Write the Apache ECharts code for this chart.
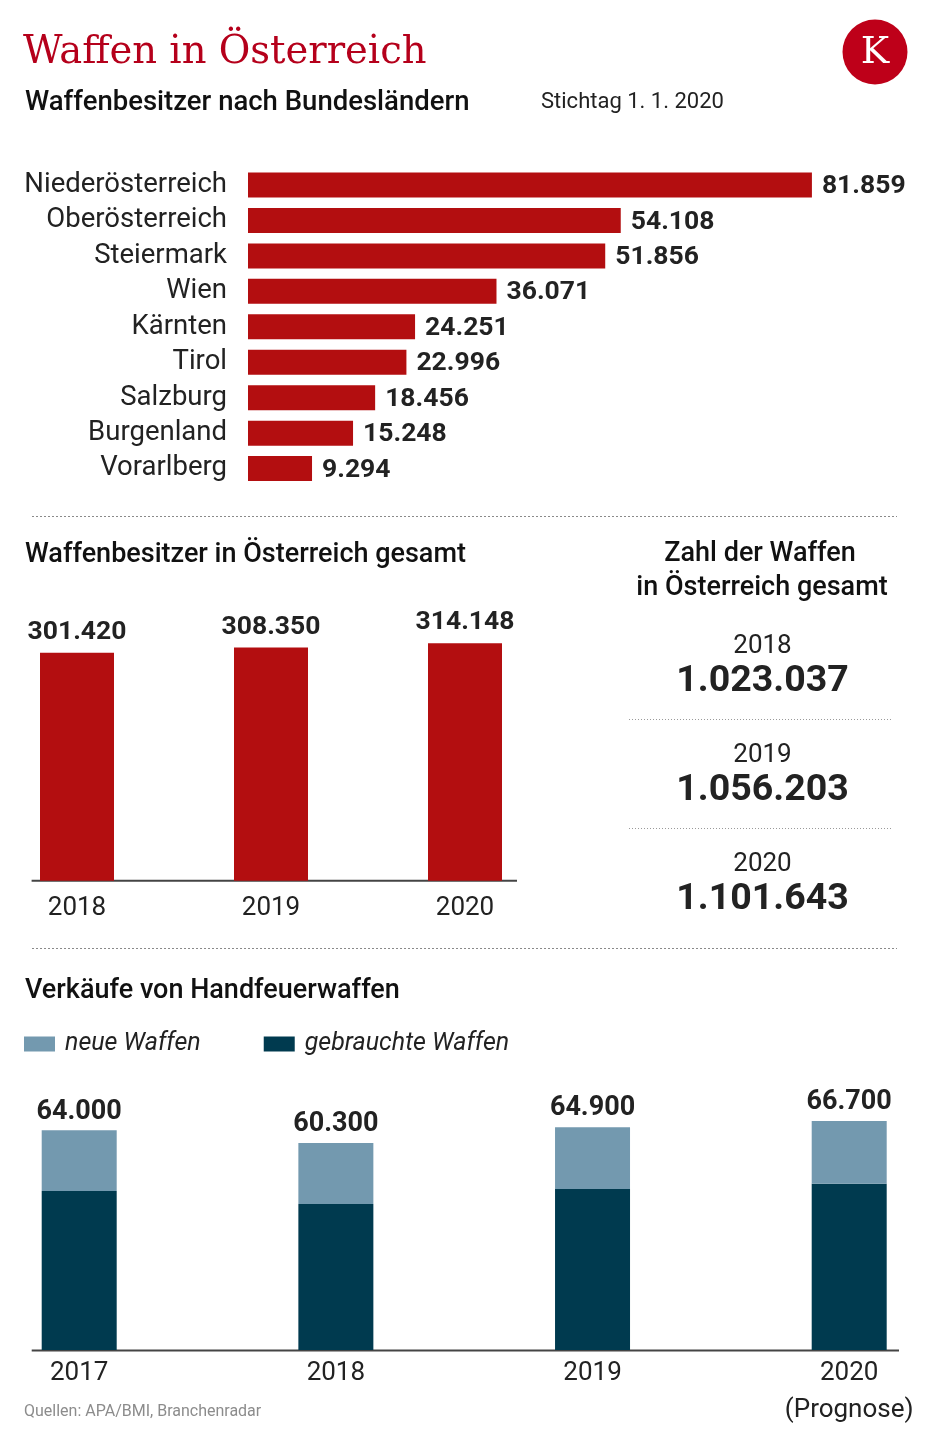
<!DOCTYPE html>
<html><head><meta charset="utf-8">
<script src="https://cdn.jsdelivr.net/npm/echarts@6/dist/echarts.min.js"></script>
<style>html,body{margin:0;padding:0;background:#fff}#c{width:932px;height:1455px}</style>
</head><body><div id="c"></div>
<script>
// ---- data ----
const regions = ['Niederösterreich','Oberösterreich','Steiermark','Wien','Kärnten','Tirol','Salzburg','Burgenland','Vorarlberg'];
const owners = [81859,54108,51856,36071,24251,22996,18456,15248,9294];
const ownerYears = ['2018','2019','2020'];
const ownersTotal = [301420,308350,314148];
const weaponYears = ['2018','2019','2020'];
const weaponsTotal = [1023037,1056203,1101643];
const salesYears = ['2017','2018','2019','2020'];
const salesTickLabels = ['2017','2018','2019','2020\n(Prognose)'];
const salesUsed = [46300,42500,46900,48400];
const salesNew = [17700,17800,18000,18300];
const salesTotal = [64000,60300,64900,66700];

const fmt = v => String(v).replace(/\B(?=(\d{3})+(?!\d))/g, '.');
const RED = '#b30e10', DARK = '#222222', FF = 'Roboto';

function txt(x, y, text, font, fill, align) {
  return { type: 'text', x: x, y: y, silent: true,
    style: { text: text, font: font, fill: fill || DARK,
      textAlign: align || 'left', align: align || 'left',
      textVerticalAlign: 'middle', verticalAlign: 'middle' } };
}
function line(x1, y1, x2, y2, stroke, w, dash) {
  return { type: 'line', silent: true, shape: { x1, y1, x2, y2 },
    style: { stroke: stroke, lineWidth: w, lineDash: dash || null } };
}

const graphics = [
  txt(23, 53, 'Waffen in Österreich', '38.5px "DejaVu Serif"', '#b5001b'),
  txt(25, 103, 'Waffenbesitzer nach Bundesländern', '500 27.5px ' + FF, '#111'),
  txt(541, 102, 'Stichtag 1. 1. 2020', '22px ' + FF, '#222'),
  { type: 'circle', silent: true, shape: { cx: 875, cy: 52, r: 32.5 }, style: { fill: '#be0019' } },
  txt(875, 53, 'K', '38px "DejaVu Serif"', '#fff', 'center'),
  line(32, 516.5, 897, 516.5, '#8a8a8a', 1, [2, 2]),
  txt(25, 555, 'Waffenbesitzer in Österreich gesamt', '500 27px ' + FF, '#111'),
  line(31.6, 880.7, 517, 880.7, '#444', 2),
  txt(760, 554.5, 'Zahl der Waffen', '500 27px ' + FF, '#111', 'center'),
  txt(762, 588, 'in Österreich gesamt', '500 27px ' + FF, '#111', 'center'),
  line(32, 948.5, 897, 948.5, '#8a8a8a', 1, [2, 2]),
  txt(25, 991.5, 'Verkäufe von Handfeuerwaffen', '500 27px ' + FF, '#111'),
  line(31.7, 1350.5, 899, 1350.5, '#444', 2),
  txt(24, 1412, 'Quellen: APA/BMI, Branchenradar', '16px ' + FF, '#8c8c8c')
];
weaponYears.forEach((y, i) => {
  const off = i * 109;
  graphics.push(txt(762.5, 646.5 + off, y, '26px ' + FF, '#222', 'center'));
  graphics.push(txt(762.5, 681.5 + off, fmt(weaponsTotal[i]), 'bold 37.5px ' + FF, '#222', 'center'));
  if (i < weaponYears.length - 1) graphics.push(line(629, 719.5 + off, 893, 719.5 + off, '#9a9a9a', 1, [1, 2]));
});

const chart = echarts.init(document.getElementById('c'), null, { renderer: 'canvas' });
chart.setOption({
  animation: false,
  backgroundColor: '#fff',
  textStyle: { fontFamily: FF },
  grid: [
    { left: 248, top: 167.3, width: 620, height: 319 },
    { left: 77, top: 578.2, width: 388, height: 302.5 },
    { left: 79.2, top: 1075.4, width: 770, height: 274.6 }
  ],
  xAxis: [
    { type: 'value', gridIndex: 0, min: 0, max: 90000, show: false },
    { type: 'category', gridIndex: 1, data: ownerYears, boundaryGap: false,
      axisLine: { show: false }, axisTick: { show: false }, splitLine: { show: false },
      axisLabel: { fontSize: 26, color: DARK, margin: 15, fontFamily: FF, interval: 0 } },
    { type: 'category', gridIndex: 2, data: salesYears, boundaryGap: false,
      axisLine: { show: false }, axisTick: { show: false }, splitLine: { show: false },
      axisLabel: { fontSize: 26, color: DARK, margin: 4.5, lineHeight: 37, fontFamily: FF, interval: 0,
        formatter: (v, i) => salesTickLabels[i] } }
  ],
  yAxis: [
    { type: 'category', gridIndex: 0, data: regions, inverse: true,
      axisLine: { show: false }, axisTick: { show: false },
      axisLabel: { fontSize: 27.5, color: DARK, margin: 21, fontFamily: FF, interval: 0, padding: [4, 0, 0, 0] } },
    { type: 'value', gridIndex: 1, min: 0, max: 400000, show: false },
    { type: 'value', gridIndex: 2, min: 0, max: 80000, show: false }
  ],
  legend: {
    data: ['neue Waffen', 'gebrauchte Waffen'],
    left: 24, top: 1031.5, padding: 0, itemWidth: 31, itemHeight: 15, itemGap: 63, icon: 'rect',
    textStyle: { fontSize: 25, fontStyle: 'italic', color: DARK, fontFamily: FF, padding: [0, 0, 0, 5] }
  },
  series: [
    { type: 'bar', xAxisIndex: 0, yAxisIndex: 0, data: owners, barWidth: 25,
      itemStyle: { color: RED },
      label: { show: true, position: 'right', distance: 10, offset: [0, 1.5], color: DARK, fontWeight: 'bold',
        fontSize: 26.5, fontFamily: FF, formatter: p => fmt(p.value) } },
    { type: 'bar', xAxisIndex: 1, yAxisIndex: 1, data: ownersTotal, barWidth: 74,
      itemStyle: { color: RED },
      label: { show: true, position: 'top', distance: 7, color: DARK, fontWeight: 'bold',
        fontSize: 26.5, fontFamily: FF, formatter: p => fmt(p.value) } },
    { name: 'gebrauchte Waffen', type: 'bar', stack: 'sales', xAxisIndex: 2, yAxisIndex: 2,
      data: salesUsed, barWidth: 75, itemStyle: { color: '#003a4f' } },
    { name: 'neue Waffen', type: 'bar', stack: 'sales', xAxisIndex: 2, yAxisIndex: 2,
      data: salesNew, barWidth: 75, itemStyle: { color: '#7399af' },
      label: { show: true, position: 'top', distance: 5, color: DARK, fontWeight: 'bold',
        fontSize: 27, fontFamily: FF, formatter: p => fmt(salesTotal[p.dataIndex]) } }
  ],
  graphic: { elements: graphics }
});
</script></body></html>
